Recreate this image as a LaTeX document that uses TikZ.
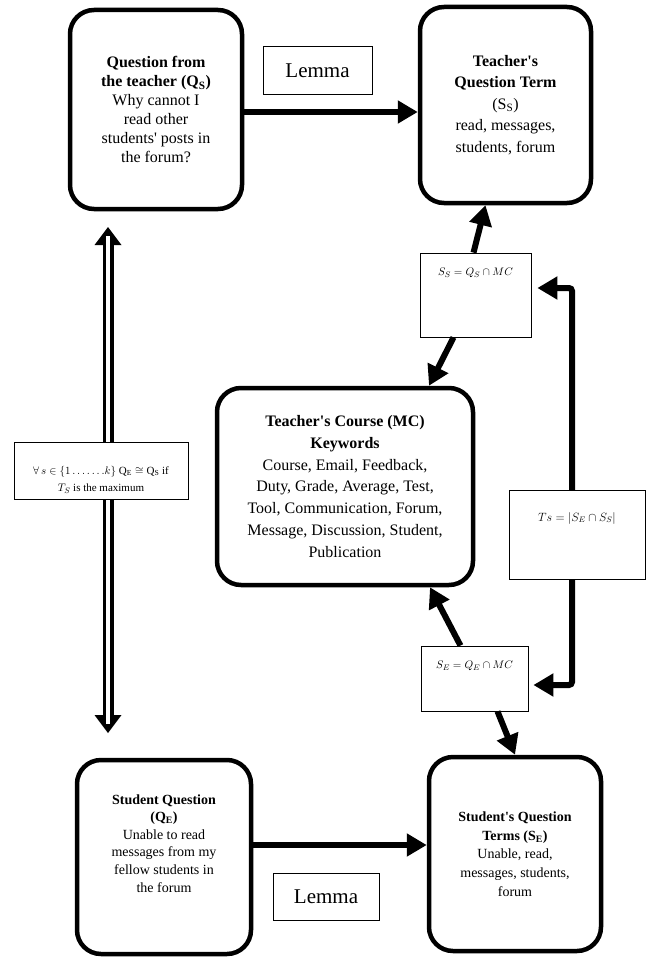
\documentclass[tikz,border=0pt]{standalone}
\usepackage{fontspec}
\setmainfont{Liberation Serif}
\usetikzlibrary{arrows.meta,calc}
\newcommand{\sq}{\textquotesingle}
\begin{document}
\begin{tikzpicture}[x=1pt,y=-1pt,
  roundbox/.style={draw, line width=4.5pt, rounded corners=24pt, align=center, inner sep=0pt},
  labelbox/.style={draw, line width=0.8pt, fill=white, inner sep=0pt},
  formula/.style={font=\fontsize{11}{13}\selectfont, anchor=north, yshift=-12pt, align=center},
  bigtip/.tip={Triangle[length=20pt,width=22pt]},
  bigarrow/.style={line width=6pt, -bigtip},
  twinline/.style={double, double distance=4pt, line width=3.5pt},
]
\useasboundingbox (0,0) rectangle (654,958);

% main rounded boxes
\node[roundbox, minimum width=172pt, minimum height=199pt,
      font=\fontsize{16}{19}\selectfont] (qs) at (156,109.5)
  {\textbf{Question from}\\ \textbf{the teacher (Q\textsubscript{S})}\\ Why cannot I\\ read other\\ students\sq{} posts in\\ the forum?};
\node[roundbox, minimum width=171pt, minimum height=196pt,
      font=\fontsize{16}{21.5}\selectfont] (ss) at (505.5,105)
  {\textbf{Teacher\sq{}s}\\ \textbf{Question Term}\\ (S\textsubscript{S})\\ read, messages,\\ students, forum};
\node[roundbox, minimum width=256pt, minimum height=197pt,
      font=\fontsize{16}{21.7}\selectfont] (mc) at (345,486.5)
  {\textbf{Teacher\sq{}s Course (MC)}\\ \textbf{Keywords}\\ Course, Email, Feedback,\\ Duty, Grade, Average, Test,\\ Tool, Communication, Forum,\\ Message, Discussion, Student,\\ Publication};
\node[roundbox, minimum width=174pt, minimum height=194pt,
      font=\fontsize{14}{17.6}\selectfont] (qe) at (164,857)
  {\textbf{Student Question}\\ \textbf{(Q\textsubscript{E})}\\ Unable to read\\ messages from my\\ fellow students in\\ the forum\\[10pt]};
\node[roundbox, minimum width=172pt, minimum height=194pt,
      font=\fontsize{14}{18.7}\selectfont] (se) at (515,854)
  {\textbf{Student\sq{}s Question}\\ \textbf{Terms (S\textsubscript{E})}\\ Unable, read,\\ messages, students,\\ forum};

% formula boxes
\node[labelbox, minimum width=111pt, minimum height=84pt,
      label={[formula]north:$S_S = Q_S \cap MC$}] (fss) at (475.5,295) {};
\node[labelbox, minimum width=107pt, minimum height=65pt,
      label={[formula]north:$S_E = Q_E \cap MC$}] (fse) at (474.5,678.5) {};

% lemma boxes
\node[labelbox, minimum width=109pt, minimum height=48pt,
      font=\fontsize{21}{24}\selectfont] (lm1) at (317.5,70.5) {Lemma};
\node[labelbox, minimum width=106pt, minimum height=47pt,
      font=\fontsize{21}{24}\selectfont] (lm2) at (326,897) {Lemma};

% horizontal arrows
\draw[bigarrow] ([yshift=-2.5pt]qs.east) -- ([yshift=-2.5pt]qs.east -| ss.west);
\draw[bigarrow] ([yshift=12pt]qe.east) -- ([yshift=12pt]qe.east -| se.west);

% arrows through the formula boxes
\draw[bigarrow] ([xshift=-2pt]fss.north) -- ([xshift=-20pt]ss.south);
\draw[bigarrow] ([xshift=-22pt]fss.south) -- ([xshift=84pt]mc.north);
\draw[bigarrow] ([xshift=-14pt]fse.north) -- ([xshift=85pt]mc.south);
\draw[bigarrow] ([xshift=23pt]fse.south) -- (se.north);

% loop between the two formula boxes
\coordinate (rt) at (572,288);
\coordinate (rb) at (572,685);
\draw[line width=6pt, bigtip-bigtip, rounded corners=3pt,
      shorten <=6pt, shorten >=5pt]
  (fss.east |- rt) -- (rt) -- (rb) -- (fse.east |- rb);
\node[labelbox, minimum width=136pt, minimum height=89pt,
      label={[formula, yshift=-7pt, font=\fontsize{12}{14}\selectfont]north:$Ts = |S_E \cap S_S|$}]
  (ts) at (577,534.5) {};

% double-lined arrow between the two questions
\coordinate (dt) at (108,227);
\coordinate (db) at (108,733);
\fill (dt) -- ++(-13.5,18) -- ++(27,0) -- cycle;
\fill (db) -- ++(-13.5,-18) -- ++(27,0) -- cycle;
\draw[twinline] ($(dt)+(0,9)$) -- ($(db)+(0,-9)$);
\node[labelbox, minimum width=174pt, minimum height=57pt,
      label={[formula, yshift=-9pt, font=\fontsize{11}{17}\selectfont]north:%
        {$\forall\, s \in \{1 \ldots\ldots .k\}\ \mathrm{Q}_{\mathrm{E}} \cong \mathrm{Q}_{\mathrm{S}}$ if\\ $T_S$ is the maximum}}]
  (fa) at (101,470.5) {};
\end{tikzpicture}
\end{document}
